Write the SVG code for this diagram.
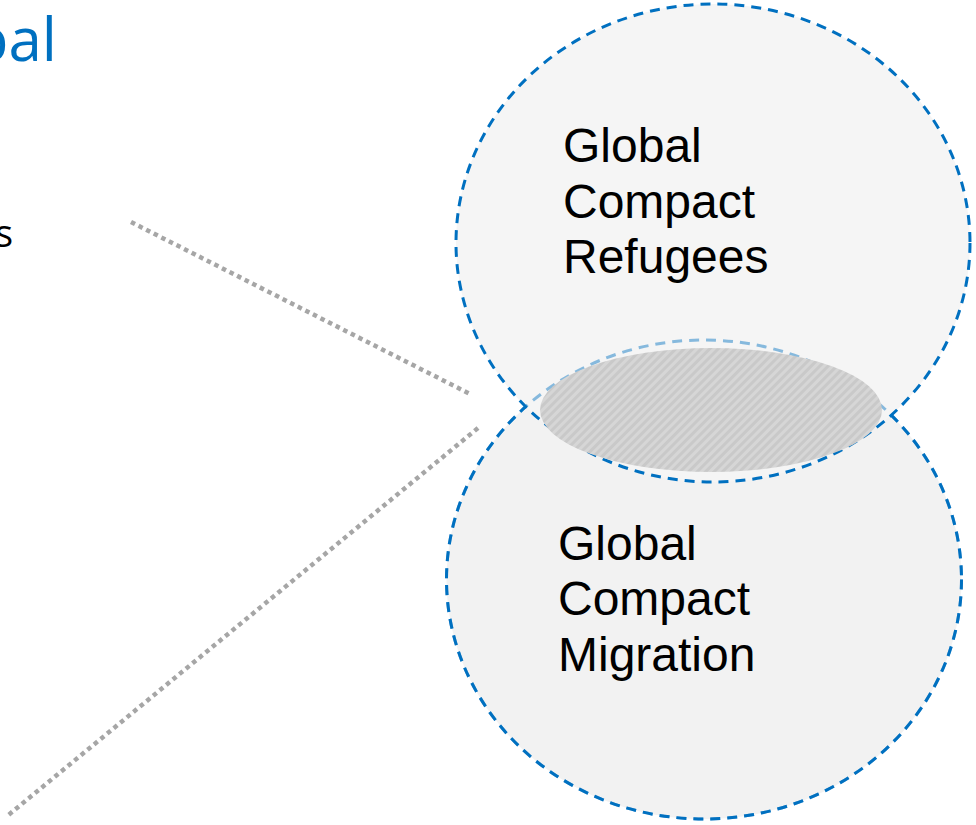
<svg xmlns="http://www.w3.org/2000/svg" width="976" height="825" viewBox="0 0 976 825">
  <defs>
    <style>
      .circ { stroke: #0070c0; stroke-width: 3; stroke-dasharray: 10 7; }
      .lbl { font-family: "Liberation Sans", Arial, sans-serif; font-size: 48px; fill: #000000; }
      .dot { stroke: #a6a6a6; stroke-width: 4.5; stroke-dasharray: 4.5 4; fill: none; }
    </style>
    <pattern id="stripes" patternUnits="userSpaceOnUse" width="6" height="6" patternTransform="rotate(-45)">
      <rect width="6" height="6" fill="#c9c9c9"/>
      <rect width="6" height="3" fill="#d6d6d6"/>
    </pattern>
  </defs>
  <rect width="976" height="825" fill="#ffffff"/>

  <g id="title">
    <text x="57" y="61" text-anchor="end" font-family="'Open Sans', 'Segoe UI', sans-serif" font-size="60" fill="#0070c0">bal</text>
    <text x="13" y="247" text-anchor="end" font-family="'Open Sans', 'Segoe UI', sans-serif" font-size="38" fill="#000000">s</text>
  </g>

  <g id="connectors">
    <line class="dot" x1="131" y1="222" x2="472" y2="395"/>
    <line class="dot" x1="478" y1="428" x2="6" y2="817"/>
  </g>

  <g id="migration">
    <ellipse cx="704" cy="579.5" rx="257.5" ry="239.5" fill="#f2f2f2" class="circ"/>
  </g>

  <g id="refugees">
    <ellipse cx="713" cy="243" rx="257" ry="239" fill="#f5f5f5"/>
    <ellipse cx="704" cy="579.5" rx="257.5" ry="239.5" fill="none" class="circ" stroke-opacity="0.45"/>
    <ellipse cx="713" cy="243" rx="257" ry="239" fill="none" class="circ"/>
  </g>

  <g id="overlap">
    <ellipse cx="711" cy="410" rx="171" ry="62" fill="url(#stripes)"/>
  </g>

  <g id="labels">
    <text class="lbl" x="563" y="162">Global</text>
    <text class="lbl" x="563" y="218">Compact</text>
    <text class="lbl" x="563" y="273">Refugees</text>
    <text class="lbl" x="558" y="560">Global</text>
    <text class="lbl" x="558" y="615">Compact</text>
    <text class="lbl" x="558" y="671">Migration</text>
  </g>
</svg>
